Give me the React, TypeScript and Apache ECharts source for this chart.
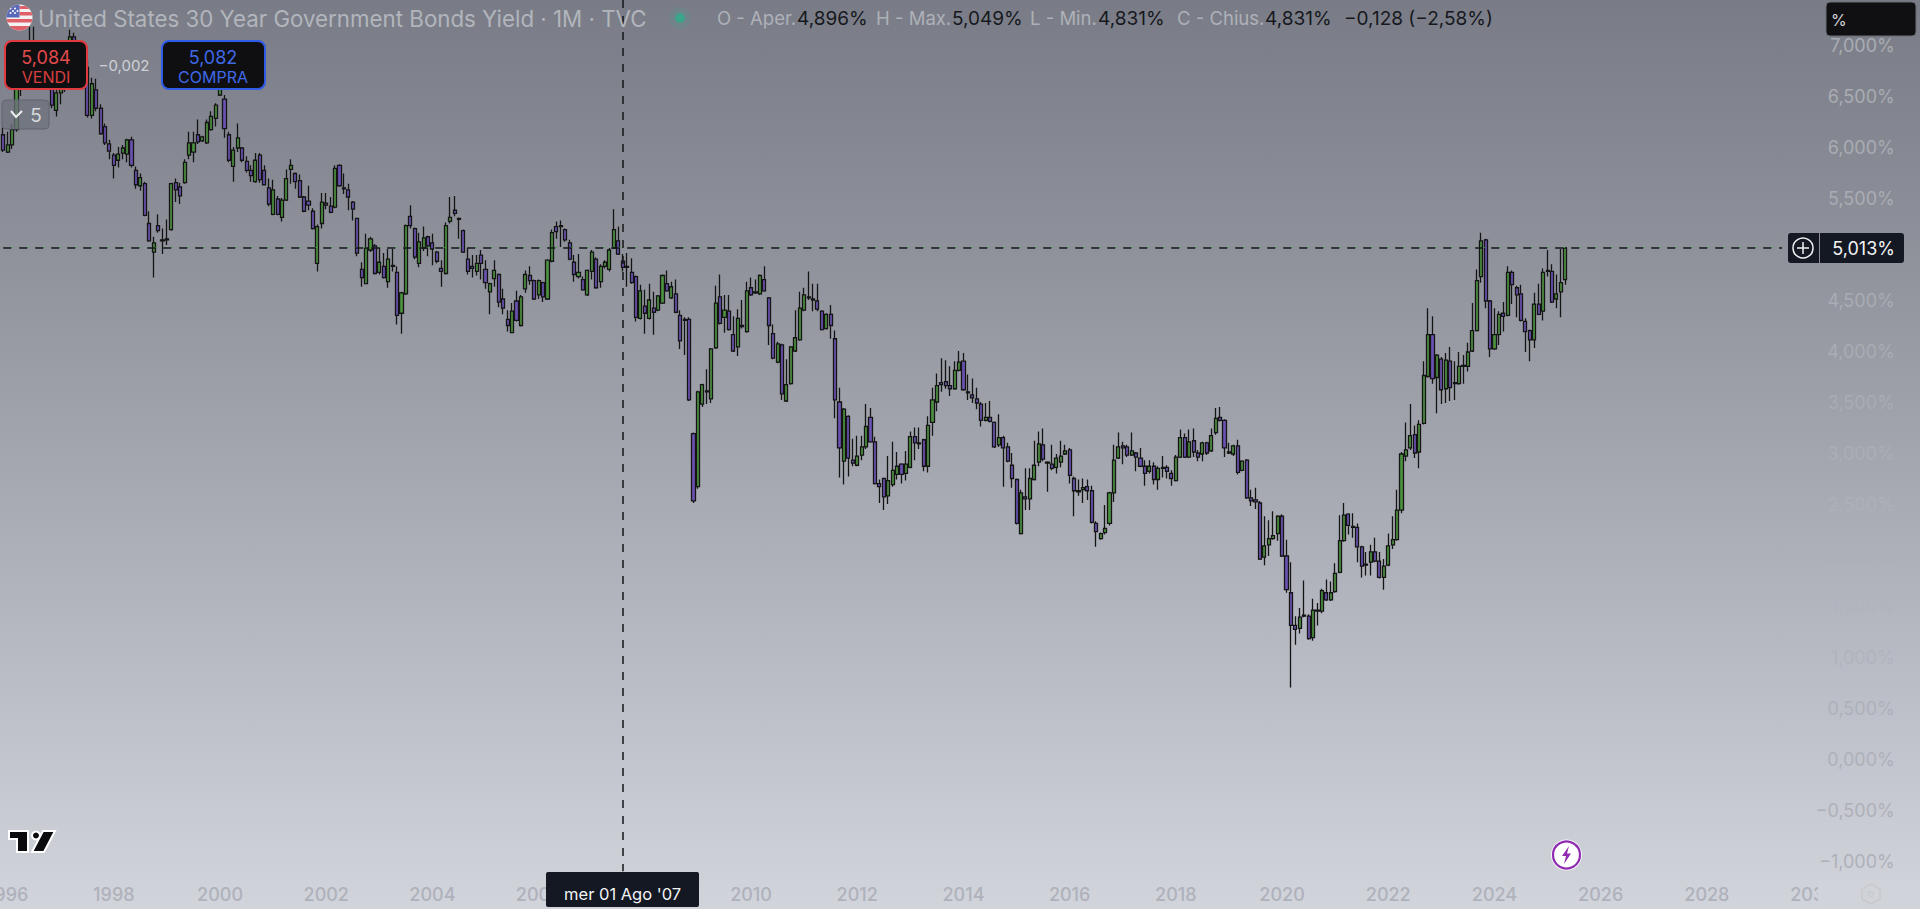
import React, { useEffect, useRef } from "react";
import * as echarts from "echarts";

// Monthly candles, each [open, close, low, high] in %, first candle Dec 1995
const ohlc1996to1999: number[][] = [
[6.12,5.97,5.95,6.19],[5.95,6.02,5.94,6.15],[6.02,6.17,5.98,6.22],[6.17,6.57,6.15,6.62],[6.57,6.72,6.5,6.85],
[6.72,6.9,6.68,6.98],[6.9,6.98,6.85,7.18],[6.98,6.9,6.8,7.18],[6.9,6.98,6.82,7.03],[6.98,7.0,6.85,7.03],
[7.0,6.72,6.68,7.03],[6.72,6.41,6.38,6.78],[6.36,6.53,6.3,6.6],[6.53,6.68,6.42,6.78],[6.68,6.7,6.54,6.85],
[6.7,7.08,6.65,7.15],[7.08,6.95,6.85,7.12],[6.95,6.92,6.75,7.02],[6.92,6.78,6.62,6.98],[6.78,6.31,6.29,6.85],
[6.31,6.62,6.28,6.68],[6.56,6.38,6.35,6.67],[6.38,6.13,6.12,6.42],[6.2,6.04,6.02,6.23],[6.03,5.96,5.88,6.07],
[5.92,5.82,5.69,5.94],[5.87,5.93,5.8,6.0],[5.94,5.99,5.88,6.02],[5.93,6.07,5.85,6.08],[6.07,5.82,5.8,6.1],
[5.77,5.63,5.59,5.81],[5.62,5.7,5.57,5.74],[5.64,5.33,5.32,5.66],[5.25,5.08,5.07,5.37],[4.97,5.06,4.72,5.12],
[5.23,5.18,5.16,5.34],[5.08,5.09,4.95,5.2],[5.09,5.1,5.04,5.29],[5.19,5.64,5.18,5.65],[5.65,5.58,5.46,5.69],
[5.61,5.52,5.44,5.65],[5.65,5.85,5.64,5.88],[5.92,6.04,5.88,6.15],[5.95,6.04,5.85,6.15],[6.12,6.05,6.03,6.27],
[6.06,6.1,6.05,6.11],[6.04,6.24,6.03,6.27],[6.17,6.3,6.16,6.35],[6.28,6.41,6.2,6.43],
];
const ohlc2000to2004: number[][] = [
[6.51,6.58,6.5,6.76],[6.47,6.18,6.09,6.51],[6.12,5.87,5.85,6.15],[5.81,5.97,5.66,6.0],[5.99,6.09,5.95,6.23],
[5.99,5.87,5.85,6.0],[5.86,5.77,5.75,5.91],[5.77,5.72,5.66,5.82],[5.66,5.87,5.65,5.94],[5.92,5.68,5.65,5.94],
[5.77,5.63,5.63,5.82],[5.6,5.44,5.42,5.69],[5.34,5.58,5.33,5.68],[5.49,5.34,5.33,5.52],[5.31,5.48,5.27,5.5],
[5.48,5.69,5.47,5.78],[5.78,5.82,5.64,5.88],[5.74,5.66,5.59,5.75],[5.67,5.51,5.5,5.73],[5.51,5.37,5.36,5.52],
[5.47,5.43,5.38,5.62],[5.37,5.2,5.19,5.4],[4.86,5.22,4.78,5.24],[5.25,5.46,5.2,5.55],[5.45,5.43,5.39,5.55],
[5.42,5.36,5.35,5.51],[5.41,5.79,5.4,5.82],[5.82,5.62,5.61,5.83],[5.6,5.59,5.54,5.74],[5.58,5.51,5.38,5.64],
[5.46,5.39,5.28,5.47],[5.3,4.96,4.93,5.3],[4.8,4.72,4.63,4.87],[4.66,5.01,4.66,5.15],[4.99,5.1,4.97,5.12],
[5.03,4.76,4.75,5.05],[4.77,4.87,4.75,5.02],[4.83,4.72,4.71,4.96],[4.68,4.9,4.62,5.0],[4.84,4.83,4.78,5.0],
[4.77,4.35,4.26,4.83],[4.37,4.57,4.17,4.58],[4.56,5.23,4.55,5.24],[5.32,5.23,5.2,5.43],[5.2,4.92,4.9,5.21],
[4.86,5.07,4.82,5.16],[5.01,5.11,4.98,5.22],[5.12,5.03,4.93,5.13],[5.06,5.0,4.84,5.15],[4.97,4.88,4.86,4.98],
[4.81,4.78,4.63,4.89],[4.76,5.23,4.75,5.26],[5.27,5.31,5.25,5.51],[5.38,5.35,5.32,5.52],[5.3,5.29,5.1,5.31],
[5.18,4.97,4.96,5.19],[4.9,4.78,4.75,5.01],[4.83,4.81,4.72,4.94],[4.78,4.86,4.74,4.94],[4.94,4.86,4.7,4.99],
];
const ohlc2005to2009: number[][] = [
[4.8,4.67,4.61,4.89],[4.58,4.66,4.36,4.67],[4.71,4.79,4.63,4.89],[4.75,4.48,4.43,4.76],[4.51,4.42,4.36,4.61],
[4.31,4.25,4.19,4.4],[4.18,4.39,4.18,4.47],[4.49,4.3,4.29,4.59],[4.25,4.53,4.24,4.55],[4.61,4.75,4.57,4.79],
[4.74,4.69,4.65,4.83],[4.69,4.51,4.5,4.7],[4.55,4.69,4.51,4.7],[4.67,4.53,4.48,4.68],[4.51,4.89,4.5,4.9],
[4.88,5.16,4.87,5.19],[5.22,5.17,5.1,5.27],[5.23,5.22,5.02,5.28],[5.19,5.09,5.07,5.2],[5.06,4.9,4.89,5.09],
[4.87,4.75,4.68,4.94],[4.73,4.77,4.71,4.95],[4.7,4.6,4.59,4.73],[4.55,4.79,4.54,4.8],[4.78,4.97,4.7,4.99],
[4.9,4.62,4.61,4.92],[4.68,4.83,4.62,4.85],[4.83,4.87,4.81,4.89],[4.8,4.99,4.78,5.01],[5.01,5.19,5.0,5.39],
[5.08,4.95,4.94,5.22],[4.88,4.82,4.78,4.95],[4.83,4.82,4.63,4.96],[4.77,4.67,4.66,4.91],[4.73,4.33,4.29,4.74],
[4.32,4.59,4.31,4.65],[4.44,4.37,4.17,4.6],[4.32,4.5,4.31,4.66],[4.42,4.38,4.16,4.58],[4.4,4.54,4.39,4.55],
[4.47,4.74,4.46,4.75],[4.66,4.59,4.58,4.79],[4.52,4.63,4.51,4.68],[4.56,4.38,4.37,4.7],[4.35,4.1,4.02,4.4],
[4.31,4.3,3.96,4.33],[4.31,3.52,3.51,4.33],[3.19,2.53,2.51,3.2],[2.67,3.6,2.65,3.61],[3.48,3.67,3.45,3.68],
[3.61,3.6,3.48,3.82],[3.53,4.02,3.49,4.03],[4.03,4.47,4.02,4.64],[4.53,4.27,4.26,4.75],[4.33,4.4,4.18,4.55],
[4.39,4.21,4.2,4.55],[4.16,4.0,3.99,4.34],[4.04,4.32,3.95,4.41],[4.25,4.24,4.22,4.5],[4.19,4.59,4.18,4.68],
];
const ohlc2010to2014: number[][] = [
[4.62,4.55,4.54,4.72],[4.58,4.57,4.56,4.7],[4.56,4.74,4.55,4.75],[4.7,4.59,4.58,4.83],[4.52,4.25,4.06,4.53],
[4.17,3.93,3.92,4.26],[3.89,4.07,3.88,4.09],[4.06,3.58,3.52,4.07],[3.51,3.67,3.5,3.92],[3.68,4.04,3.67,4.05],
[4.0,4.13,3.99,4.4],[4.11,4.42,4.1,4.58],[4.4,4.55,4.39,4.62],[4.53,4.52,4.5,4.78],[4.51,4.5,4.39,4.66],
[4.49,4.41,4.39,4.66],[4.39,4.21,4.2,4.4],[4.22,4.36,4.21,4.37],[4.36,4.25,4.12,4.45],[4.12,3.52,3.34,4.2],
[3.5,3.05,2.76,3.64],[2.92,3.43,2.69,3.44],[3.36,2.95,2.77,3.37],[2.93,2.9,2.87,3.14],[2.88,2.97,2.87,3.17],
[2.98,3.06,2.93,3.17],[3.06,3.26,3.04,3.48],[3.35,3.11,3.1,3.44],[3.11,2.7,2.69,3.16],[2.7,2.67,2.51,2.74],
[2.75,2.57,2.44,2.75],[2.58,2.73,2.5,2.97],[2.69,2.83,2.67,3.11],[2.79,2.87,2.74,3.01],[2.89,2.79,2.7,2.9],
[2.8,2.89,2.73,3.02],[2.86,3.16,2.85,3.21],[3.16,3.1,2.93,3.25],[3.1,3.09,3.04,3.25],[3.13,2.87,2.82,3.14],
[2.87,3.27,2.81,3.36],[3.3,3.52,3.17,3.64],[3.5,3.66,3.41,3.78],[3.69,3.67,3.6,3.93],[3.7,3.66,3.63,3.91],
[3.66,3.63,3.56,3.85],[3.63,3.81,3.62,3.9],[3.81,3.89,3.8,4.0],[3.9,3.62,3.61,3.98],[3.6,3.59,3.52,3.77],
[3.57,3.54,3.49,3.73],[3.53,3.49,3.43,3.64],[3.48,3.32,3.26,3.5],[3.32,3.35,3.31,3.49],[3.35,3.31,3.3,3.51],
[3.3,3.06,3.05,3.31],[3.08,3.15,3.06,3.38],[3.15,3.05,2.67,3.17],[3.06,2.92,2.91,3.1],[2.88,2.75,2.66,3.0],
];
const ohlc2015to2019: number[][] = [
[2.74,2.31,2.3,2.75],[2.21,2.61,2.2,2.64],[2.57,2.55,2.44,2.85],[2.55,2.75,2.44,2.85],[2.74,2.88,2.73,3.12],
[2.91,3.09,2.87,3.21],[3.08,2.94,2.92,3.24],[2.91,2.9,2.62,2.92],[2.89,2.85,2.83,3.08],[2.86,2.95,2.8,2.99],
[2.91,2.97,2.86,3.12],[2.99,3.02,2.98,3.08],[3.03,2.78,2.7,3.05],[2.75,2.63,2.38,2.77],[2.63,2.62,2.58,2.74],
[2.64,2.66,2.51,2.75],[2.67,2.63,2.54,2.74],[2.63,2.32,2.31,2.68],[2.31,2.23,2.08,2.33],[2.16,2.21,2.15,2.22],
[2.22,2.26,2.2,2.49],[2.31,2.61,2.29,2.62],[2.61,2.93,2.52,3.08],[2.95,3.06,2.94,3.2],[3.07,3.05,2.89,3.11],
[3.06,2.98,2.96,3.08],[2.98,3.02,2.97,3.2],[3.0,2.96,2.82,3.01],[2.95,2.87,2.86,3.05],[2.87,2.8,2.68,2.93],
[2.82,2.87,2.8,2.93],[2.87,2.74,2.69,2.91],[2.74,2.85,2.64,2.87],[2.86,2.85,2.76,2.97],[2.86,2.82,2.75,2.88],
[2.8,2.75,2.68,2.83],[2.73,2.96,2.72,2.98],[2.96,3.15,2.95,3.23],[3.15,2.96,2.95,3.19],[2.96,3.11,2.95,3.23],
[3.12,3.01,2.96,3.24],[3.0,2.96,2.92,3.03],[2.99,3.1,2.92,3.11],[3.1,3.0,2.98,3.11],[3.02,3.17,3.01,3.24],
[3.2,3.34,3.18,3.44],[3.35,3.32,3.31,3.45],[3.32,3.05,2.96,3.33],[3.01,3.0,2.99,3.1],[2.99,3.07,2.97,3.08],
[3.07,2.81,2.79,3.13],[2.83,2.92,2.82,2.93],[2.93,2.56,2.55,2.94],[2.56,2.53,2.48,2.64],[2.54,2.52,2.45,2.66],
[2.51,1.96,1.95,2.53],[1.98,2.09,1.9,2.38],[2.1,2.16,1.99,2.34],[2.16,2.19,2.15,2.43],[2.21,2.38,2.14,2.39],
];
const ohlc2020to2025: number[][] = [
[2.38,1.99,1.98,2.4],[1.99,1.66,1.63,2.15],[1.63,1.31,0.7,1.93],[1.31,1.27,1.12,1.4],[1.28,1.39,1.23,1.48],
[1.41,1.4,1.39,1.75],[1.4,1.18,1.17,1.42],[1.19,1.46,1.16,1.57],[1.46,1.45,1.31,1.53],[1.45,1.65,1.43,1.67],
[1.63,1.56,1.55,1.76],[1.56,1.63,1.55,1.74],[1.64,1.82,1.63,1.92],[1.83,2.14,1.82,2.39],[2.14,2.39,2.13,2.51],
[2.4,2.29,2.2,2.41],[2.28,2.27,2.17,2.41],[2.27,2.08,1.93,2.31],[2.08,1.89,1.78,2.09],[1.91,1.9,1.8,2.03],
[1.93,2.03,1.8,2.1],[2.03,1.94,1.93,2.17],[1.94,1.78,1.77,2.03],[1.78,1.89,1.66,1.96],[1.9,2.09,1.89,2.21],
[2.1,2.15,2.06,2.38],[2.15,2.44,2.14,2.64],[2.44,2.99,2.41,3.01],[2.97,3.03,2.92,3.3],[3.05,3.17,3.03,3.48],
[3.18,3.0,2.95,3.27],[3.01,3.28,2.85,3.32],[3.29,3.76,3.28,3.9],[3.75,4.16,3.74,4.42],[4.16,3.73,3.68,4.34],
[3.74,3.96,3.39,3.97],[3.92,3.62,3.48,3.94],[3.63,3.91,3.49,3.98],[3.9,3.64,3.51,4.04],[3.69,3.68,3.52,3.9],
[3.68,3.85,3.67,3.99],[3.86,3.85,3.68,3.96],[3.85,3.99,3.8,4.08],[4.0,4.2,3.99,4.47],[4.2,4.69,4.19,4.8],
[4.73,5.08,4.67,5.16],[5.09,4.49,4.42,5.1],[4.49,4.02,3.94,4.5],[4.02,4.16,4.01,4.42],[4.16,4.36,4.06,4.39],
[4.37,4.34,4.19,4.48],[4.35,4.77,4.34,4.83],[4.77,4.65,4.46,4.79],[4.62,4.55,4.33,4.64],[4.56,4.3,4.29,4.65],
[4.29,4.19,3.99,4.32],[4.2,4.11,3.9,4.21],[4.11,4.46,4.03,4.57],[4.46,4.36,4.35,4.66],[4.39,4.77,4.3,4.81],
[4.78,4.79,4.73,4.99],[4.78,4.48,4.47,4.85],[4.51,4.56,4.42,4.75],[4.58,4.67,4.33,5.0],[4.7,5.01,4.65,5.02],
];

const candles = [...ohlc1996to1999, ...ohlc2000to2004, ...ohlc2005to2009, ...ohlc2010to2014, ...ohlc2015to2019, ...ohlc2020to2025];

const monthCount = 411;
const categories: string[] = [];
for (let k = 0; k < monthCount; k++) {
  const total = 1995 * 12 + 11 + k;
  const y = Math.floor(total / 12);
  const m = total % 12 + 1;
  categories.push(`${y}-${String(m).padStart(2, "0")}`);
}

const crosshairMonth = "2007-08";
const crosshairPrice = 5.013;
const titleText = "United States 30 Year Government Bonds Yield · 1M · TVC";
const fontUi = "Inter, Roboto, sans-serif";

const flagSvg =
  "data:image/svg+xml;utf8," +
  encodeURIComponent(
    `<svg xmlns="http://www.w3.org/2000/svg" width="54" height="54" viewBox="0 0 54 54"><clipPath id="c"><circle cx="27" cy="27" r="26"/></clipPath><g clip-path="url(#c)"><rect width="54" height="54" fill="#f2f2f2"/><rect y="16" x="27" width="27" height="7" fill="#e0606a"/><rect y="4" x="27" width="27" height="6" fill="#e0606a"/><rect y="30" width="54" height="7" fill="#e0606a"/><rect y="44" width="54" height="10" fill="#e0606a"/><rect width="27" height="27" fill="#5a68b8"/><g fill="#fff"><circle cx="9" cy="9" r="2"/><circle cx="18" cy="9" r="2"/><circle cx="9" cy="18" r="2"/><circle cx="18" cy="18" r="2"/><circle cx="14" cy="14" r="2"/><circle cx="23" cy="14" r="2"/></g></g></svg>`
  );

function priceLabelColor(v: number): string {
  if (v >= 3.5) return "#a9acb3";
  if (v >= 3) return "#abaeb5";
  if (v >= 2.5) return "#aeb1b8";
  if (v >= 2) return "#adb0b8";
  if (v >= 1.5) return "#b1b4bc";
  if (v >= 1) return "#b1b3bc";
  return "#aeb0b9";
}

function buildGraphics(): any[] {
  const Z = 100;
  const txt = (x: number, y: number, text: string, fill: string, fontSize: number, align = "left", extra: any = {}) => ({
    type: "text", x, y, z: Z + 2,
    style: { text, fill, fontSize, fontFamily: fontUi, textAlign: align, textVerticalAlign: "middle", ...extra },
  });
  const rect = (x: number, y: number, w: number, h: number, r: number, fill: string, stroke?: string, lw = 1) => ({
    type: "rect", z: Z, shape: { x, y, width: w, height: h, r },
    style: { fill, stroke: stroke || "none", lineWidth: lw },
  });
  return [
    // clip of the time axis where the price scale starts
    rect(1818, 880, 102, 29, 0, "#d0d3da"),
    // title row
    { type: "image", z: Z, style: { image: flagSvg, x: 6, y: 4, width: 27, height: 27 } },
    txt(38, 18, titleText, "#b2b5bc", 22.3),
    { type: "circle", z: Z, shape: { cx: 680, cy: 18, r: 11 }, style: { fill: "rgba(60,170,140,0.16)" } },
    { type: "circle", z: Z + 1, shape: { cx: 680, cy: 18, r: 5 }, style: { fill: "#3ba58a" } },
    txt(717, 18, "O - Aper.", "#aeb1b8", 18.5),
    txt(797, 18, "4,896%", "#16181d", 19),
    txt(876, 18, "H - Max.", "#aeb1b8", 18.5),
    txt(952, 18, "5,049%", "#16181d", 19),
    txt(1030, 18, "L - Min.", "#aeb1b8", 18.5),
    txt(1098, 18, "4,831%", "#16181d", 19),
    txt(1177, 18, "C - Chius.", "#aeb1b8", 18.5),
    txt(1265, 18, "4,831%", "#16181d", 19),
    txt(1344, 18, "−0,128 (−2,58%)", "#16181d", 19),
    // scale unit
    rect(1826, 2, 90, 34, 4, "#101012", "#6b6e76"),
    txt(1831, 20, "%", "#d4d6da", 16),
    // sell / buy badges
    rect(5, 41, 82, 48, 7, "#0f0f11", "#e0393e", 2),
    txt(46, 57, "5,084", "#e24b4b", 18, "center"),
    txt(46, 77, "VENDI", "#d93f3f", 16, "center"),
    txt(124, 65, "−0,002", "#cfd1d6", 15, "center"),
    rect(162, 41, 103, 48, 7, "#0f0f11", "#2f5ce6", 2),
    txt(213, 57, "5,082", "#3f68e6", 18, "center"),
    txt(213, 77, "COMPRA", "#3f68e6", 16, "center"),
    // collapse button
    rect(2, 100, 47, 29, 4, "rgba(110,114,124,0.75)", "#60646f"),
    { type: "polyline", z: Z + 2, shape: { points: [[11, 111], [16, 117], [22, 111]] }, style: { stroke: "#eceef1", fill: "none", lineWidth: 2 } },
    txt(36, 115, "5", "#d6d8dc", 19, "center"),
    // price crosshair tag
    rect(1788, 233, 116, 30, 3, "#141823"),
    { type: "line", z: Z + 1, shape: { x1: 1819.5, y1: 233, x2: 1819.5, y2: 263 }, style: { stroke: "#8b8e96", lineWidth: 1 } },
    { type: "circle", z: Z + 1, shape: { cx: 1803, cy: 248, r: 10 }, style: { fill: "none", stroke: "#f2f3f5", lineWidth: 1.5 } },
    { type: "line", z: Z + 1, shape: { x1: 1797, y1: 248, x2: 1809, y2: 248 }, style: { stroke: "#f2f3f5", lineWidth: 1.5 } },
    { type: "line", z: Z + 1, shape: { x1: 1803, y1: 242, x2: 1803, y2: 254 }, style: { stroke: "#f2f3f5", lineWidth: 1.5 } },
    txt(1895, 248, "5,013%", "#f2f3f5", 18, "right"),
    // time crosshair tag
    rect(546, 872, 153, 35, 2, "#141823"),
    txt(622.6, 894, "mer 01 Ago '07", "#f2f3f5", 16.5, "center"),
    // TradingView logo
    { type: "polygon", z: Z, shape: { points: [[9, 831], [28, 831], [28, 852], [17, 852], [17, 839], [9, 839]] }, style: { fill: "#0b0b0d", stroke: "#fff", lineWidth: 2 } },
    { type: "circle", z: Z, shape: { cx: 36, cy: 835.5, r: 4 }, style: { fill: "#0b0b0d", stroke: "#fff", lineWidth: 2 } },
    { type: "polygon", z: Z, shape: { points: [[43, 831], [55, 831], [44, 852], [32, 852]] }, style: { fill: "#0b0b0d", stroke: "#fff", lineWidth: 2 } },
    // lightning badge
    { type: "circle", z: Z, shape: { cx: 1566.5, cy: 855, r: 15.5 }, style: { fill: "#fff" } },
    { type: "circle", z: Z + 1, shape: { cx: 1566.5, cy: 855, r: 13.5 }, style: { fill: "#fff", stroke: "#8e2bb0", lineWidth: 2.2 } },
    { type: "polygon", z: Z + 2, shape: { points: [[1569, 846], [1562, 856], [1566, 856], [1564, 864], [1571, 853.5], [1567, 853.5]] }, style: { fill: "#8e2bb0" } },
    // settings hexagon
    { type: "polygon", z: Z, shape: { points: [[1871, 884], [1880, 889], [1880, 899], [1871, 904], [1862, 899], [1862, 889]] }, style: { fill: "none", stroke: "#c9c9cc", lineWidth: 1.5 } },
    { type: "circle", z: Z, shape: { cx: 1871, cy: 894, r: 2.5 }, style: { fill: "none", stroke: "#c9c9cc", lineWidth: 1.2 } },
  ];
}

export default function App() {
  const ref = useRef<HTMLDivElement | null>(null);
  useEffect(() => {
    const chart = echarts.init(ref.current!, undefined, { renderer: "svg" });
    chart.setOption({
      animation: false,
      backgroundColor: {
        type: "linear", x: 0, y: 0, x2: 0, y2: 1,
        colorStops: [
          { offset: 0, color: "#797c86" },
          { offset: 0.28, color: "#8f929b" },
          { offset: 0.5, color: "#a3a6ae" },
          { offset: 0.77, color: "#bcbfc8" },
          { offset: 0.93, color: "#ccced6" },
          { offset: 1, color: "#d1d4db" },
        ],
      },
      grid: { left: 1, top: -6, width: 1818.7, height: 918, containLabel: false, outerBoundsMode: "none" },
      xAxis: {
        type: "category",
        data: categories,
        boundaryGap: true,
        offset: -27,
        axisLine: { show: false },
        axisTick: { show: false },
        splitLine: { show: false },
        axisLabel: {
          margin: 0,
          color: "#afb1bb",
          fontFamily: fontUi,
          fontSize: 18,
          fontWeight: 500,
          hideOverlap: false,
          interval: (_: number, v: string) => v.endsWith("-01") && Number(v.slice(0, 4)) % 2 === 0,
          formatter: (v: string) => v.slice(0, 4),
        },
      },
      yAxis: {
        type: "value",
        position: "right",
        min: -1.5,
        max: 7.5,
        interval: 0.5,
        axisLine: { show: false },
        axisTick: { show: false },
        splitLine: { show: false },
        axisLabel: {
          align: "right",
          margin: 75,
          color: (v: number) => priceLabelColor(Number(v)),
          fontFamily: fontUi,
          fontSize: 18,
          formatter: (v: number) =>
            v <= -1.5 || v >= 7.5 ? "" : v.toFixed(3).replace(".", ",").replace("-", "−") + "%",
        },
      },
      series: [
        {
          type: "candlestick",
          data: candles,
          barWidth: 3.6,
          itemStyle: {
            color: "#4c9140",
            color0: "#6a52b2",
            borderColor: "#141414",
            borderColor0: "#141414",
            borderColorDoji: "#141414",
            borderWidth: 1.3,
          },
          markLine: {
            silent: true,
            symbol: "none",
            animation: false,
            label: { show: false },
            data: [
              [
                { xAxis: categories[0], yAxis: crosshairPrice, lineStyle: { color: "rgba(70,170,60,0.75)", width: 1, type: [2, 6] } },
                { xAxis: categories[402], yAxis: crosshairPrice },
              ],
              [
                { xAxis: categories[0], yAxis: crosshairPrice, lineStyle: { color: "#15161a", width: 1.5, type: [8, 8] } },
                { xAxis: categories[402], yAxis: crosshairPrice },
              ],
              [
                { xAxis: crosshairMonth, yAxis: 7.44, lineStyle: { color: "#15161a", width: 1.5, type: [8, 8] } },
                { xAxis: crosshairMonth, yAxis: -1.1 },
              ],
            ],
          },
        },
      ],
      graphic: { elements: buildGraphics() },
    });
    return () => chart.dispose();
  }, []);
  return <div ref={ref} style={{ position: "fixed", left: 0, top: 0, width: 1920, height: 909 }} />;
}
